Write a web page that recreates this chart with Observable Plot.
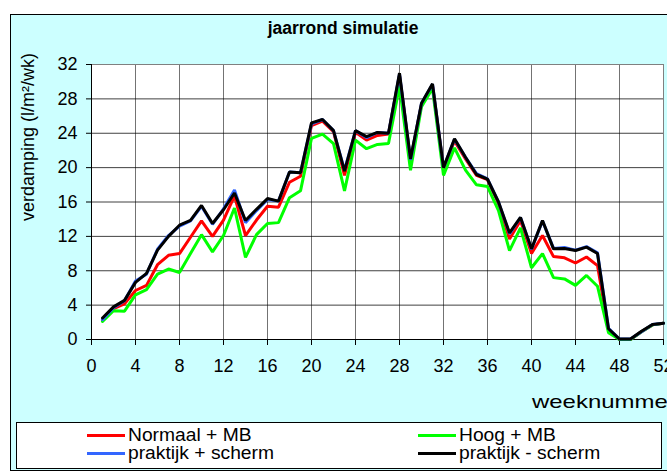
<!DOCTYPE html>
<html>
<head>
<meta charset="utf-8">
<script src="https://cdn.jsdelivr.net/npm/d3@7"></script>
<script src="https://cdn.jsdelivr.net/npm/@observablehq/plot@0.6"></script>
<style>
  html, body { margin: 0; padding: 0; width: 667px; height: 471px; overflow: hidden; background: #fff; }
  body { position: relative; font-family: "Liberation Sans", Arial, sans-serif; }
  #frame { position: absolute; left: 10px; top: 14px; width: 720px; height: 455px; background: #CCFFFF; border: 1px solid #000; }
  #title { position: absolute; left: 223px; width: 240px; top: 18px; text-align: center; font-weight: bold; font-size: 17.5px; color: #000; }
  #ylabel { position: absolute; left: 28px; top: 137px; transform: translate(-50%, -50%) rotate(-90deg); white-space: nowrap; font-size: 18px; color: #000; }
  #xlabel { position: absolute; left: 532px; top: 391px; white-space: nowrap; font-size: 19px; line-height: 21px; color: #000; transform: scaleX(1.26); transform-origin: left center; }
  #chart { position: absolute; left: 0; top: 0; }
  #legend { position: absolute; left: 16px; top: 422px; width: 644px; height: 45px; background: #fff; border: 1px solid #000; }
  .swatch { position: absolute; width: 38px; height: 3px; }
  .col { position: absolute; font-size: 17.5px; line-height: 18px; white-space: nowrap; color: #000; transform: scaleX(1.1); transform-origin: left center; }
</style>
</head>
<body>
<div id="frame"></div>
<div id="title">jaarrond simulatie</div>
<div id="ylabel">verdamping (l/m²/wk)</div>
<div id="xlabel">weeknummer</div>
<div id="chart"></div>
<div id="legend"></div>
<script>
const weeks = [1,2,3,4,5,6,7,8,9,10,11,12,13,14,15,16,17,18,19,20,21,22,23,24,25,26,27,28,29,30,31,32,33,34,35,36,37,38,39,40,41,42,43,44,45,46,47,48,49,50,51,52];

const normaalMB = [2.2,3.6,4.15,5.7,6.3,8.7,9.8,10.0,11.9,13.8,12.0,13.9,16.7,12.1,13.9,15.5,15.4,18.3,19.0,24.9,25.4,24.2,19.1,24.1,23.2,23.75,23.9,30.7,20.8,27.3,29.5,19.9,23.1,21.0,19.1,18.6,15.8,11.7,13.85,10.0,12.1,9.65,9.5,8.9,9.6,8.6,1.05,0.0,0.0,0.9,1.7,1.9];

const hoogMB = [2.1,3.35,3.3,5.2,5.8,7.6,8.2,7.8,10.0,12.2,10.2,12.1,15.3,9.55,12.2,13.5,13.6,16.5,17.3,23.4,23.9,22.8,17.3,23.2,22.2,22.7,22.8,29.5,19.7,27.1,29.2,19.1,22.3,19.7,18.0,17.8,15.0,10.35,13.0,8.35,10.0,7.2,7.05,6.3,7.45,6.2,0.8,0.0,0.0,0.9,1.7,1.9];

const praktijkPlusScherm = [2.3,3.7,4.5,6.8,7.6,10.5,12.1,13.2,13.8,15.5,13.4,15.2,17.4,13.6,15.0,16.3,16.1,19.5,19.4,25.1,25.6,24.3,19.7,24.3,23.5,24.1,24.0,30.9,20.9,27.5,29.7,20.0,23.3,21.2,19.3,18.7,16.0,12.3,14.2,10.5,13.8,10.6,10.7,10.4,10.8,10.1,1.3,0.05,0.05,0.9,1.75,1.9];

const praktijkMinScherm = [2.5,3.8,4.55,6.65,7.7,10.4,12.0,13.3,13.85,15.6,13.5,15.1,17.05,13.85,15.15,16.4,16.1,19.5,19.4,25.2,25.6,24.3,19.6,24.3,23.6,24.1,24.0,31.0,21.0,27.5,29.75,20.0,23.35,21.2,19.2,18.65,16.0,12.4,14.2,10.55,13.85,10.55,10.6,10.35,10.75,10.0,1.25,0.05,0.05,0.97,1.75,1.9];

const seriesNames = ["Normaal + MB", "Hoog + MB", "praktijk + scherm", "praktijk - scherm"];
const seriesColors = ["#FF0000", "#00FF00", "#3366FF", "#000000"];
const seriesValues = [normaalMB, hoogMB, praktijkPlusScherm, praktijkMinScherm];

const yTicks = [0,4,8,12,16,20,24,28,32];
const xTicks = [0,4,8,12,16,20,24,28,32,36,40,44,48,52];

const rows = [];
seriesNames.forEach((name, i) => {
  weeks.forEach((w, j) => rows.push({series: name, week: w, value: seriesValues[i][j]}));
});

const plot = Plot.plot({
  width: 667,
  height: 380,
  marginLeft: 91,
  marginRight: 4,
  marginTop: 64,
  marginBottom: 41,
  style: { background: "transparent", fontFamily: "'Liberation Sans', Arial, sans-serif", fontSize: "18px", color: "#000", overflow: "visible" },
  x: { domain: [0, 52], ticks: xTicks },
  y: { domain: [0, 32], ticks: yTicks },
  color: { domain: seriesNames, range: seriesColors },
  marks: [
    Plot.frame({ fill: "white", stroke: null }),
    Plot.gridY(yTicks, { stroke: "#000", strokeOpacity: 0.75, strokeWidth: 1 }),
    Plot.gridX(xTicks, { stroke: "#000", strokeOpacity: 0.55, strokeWidth: 1 }),
    Plot.frame({ stroke: "#808080", strokeWidth: 1 }),
    Plot.ruleY([0], { stroke: "#000" }),
    Plot.ruleX([0], { stroke: "#000" }),
    Plot.axisY(yTicks, { tickSize: 5, tickPadding: 9, label: null, stroke: "#000" }),
    Plot.axisX(xTicks, { tickSize: 6, tickPadding: 14, label: null, stroke: "#000" }),
    ...seriesNames.map((name) =>
      Plot.line(rows.filter(d => d.series === name), { x: "week", y: "value", stroke: "series", strokeWidth: 3, strokeLinejoin: "miter" })
    )
  ]
});
document.getElementById("chart").appendChild(plot);

// Legend: two columns, two rows (order: Normaal, Hoog / praktijk +, praktijk -)
const legend = document.getElementById("legend");
const colX = [70, 401];
const rowY = [12, 30];
const cols = [[0, 2], [1, 3]];
cols.forEach((idxs, c) => {
  idxs.forEach((i, r) => {
    const sw = document.createElement("div");
    sw.className = "swatch";
    sw.style.left = colX[c] + "px";
    sw.style.top = (rowY[r] - 1.5) + "px";
    sw.style.background = seriesColors[i];
    legend.appendChild(sw);
  });
  const txt = document.createElement("div");
  txt.className = "col";
  txt.style.left = (colX[c] + 41) + "px";
  txt.style.top = (rowY[0] - 9) + "px";
  txt.innerHTML = idxs.map(i => seriesNames[i]).join("<br>");
  legend.appendChild(txt);
});
</script>
</body>
</html>
